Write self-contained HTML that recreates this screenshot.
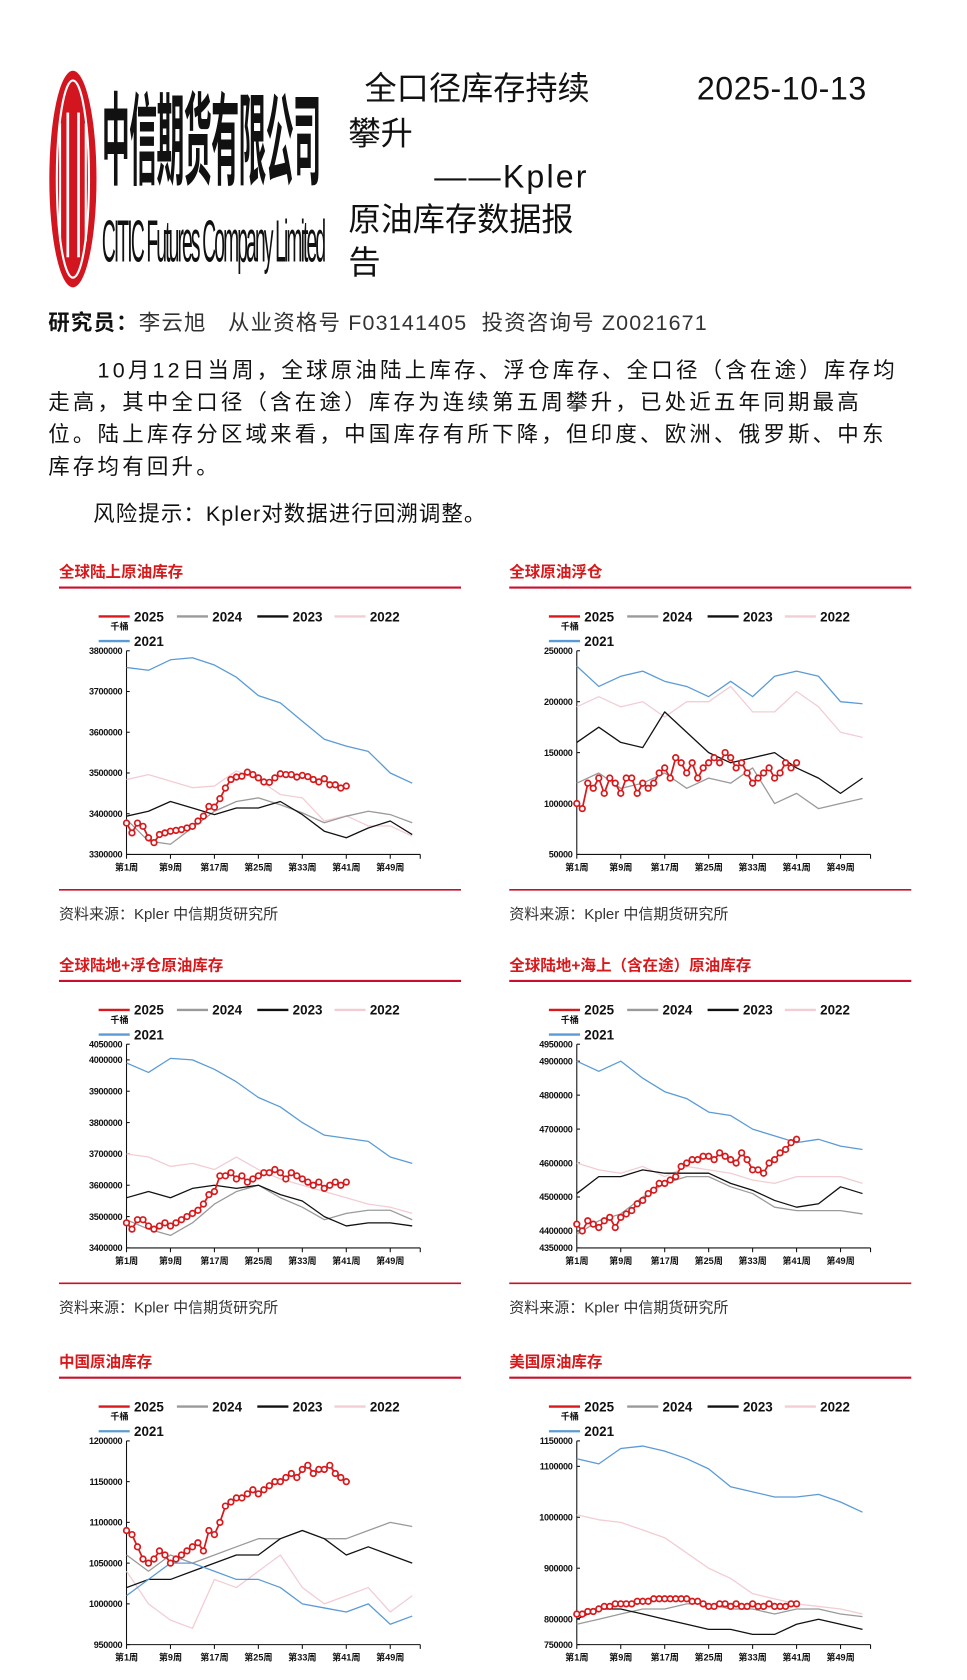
<!DOCTYPE html>
<html><head><meta charset="utf-8">
<style>
html,body{margin:0;padding:0;background:#fff;}
body{width:967px;height:1680px;overflow:hidden;position:relative;}
#page{position:absolute;left:0;top:0;width:902px;height:1567px;transform:scale(1.0721);transform-origin:0 0;font-family:"Liberation Sans","Noto Sans CJK SC",sans-serif;color:#111;}
.abs{position:absolute;white-space:nowrap;}
.ttl{font-size:30px;line-height:32px;font-family:"Liberation Sans","Noto Sans CJK SC",sans-serif;}
.para{position:absolute;left:45px;width:860px;font-size:20px;line-height:30px;white-space:nowrap;letter-spacing:3px;}
</style></head>
<body>
<div id="page">
  <svg class="abs" style="left:45px;top:65px" width="48" height="205">
    <ellipse cx="23" cy="102" rx="22" ry="101" fill="#d2151e"/>
    <ellipse cx="23" cy="102" rx="15" ry="92" fill="none" stroke="#fff" stroke-width="2"/>
    <rect x="17" y="40" width="2.5" height="135" fill="#fff"/>
    <rect x="27" y="40" width="2.5" height="135" fill="#fff"/>
    <rect x="10" y="50" width="2" height="110" fill="#fff"/>
    <rect x="34" y="50" width="2" height="110" fill="#fff"/>
  </svg>
  <div class="abs" style="left:95px;top:78px;font-size:26px;font-weight:bold;letter-spacing:-0.5px;transform:scale(1,3.6);transform-origin:0 0;font-family:'Noto Sans CJK SC',sans-serif;line-height:28px">中信期货有限公司</div>
  <div class="abs" style="left:95px;top:196px;font-size:23px;letter-spacing:-2.2px;transform:scale(0.78,2.4);transform-origin:0 0;font-family:'Liberation Sans Narrow','Liberation Sans',sans-serif;line-height:24px">CITIC Futures Company Limited</div>

  <div class="abs ttl" style="left:340px;top:68px">全口径库存持续</div>
  <div class="abs ttl" style="left:325px;top:110px">攀升</div>
  <div class="abs ttl" style="left:405px;top:150px;letter-spacing:2px">——Kpler</div>
  <div class="abs ttl" style="left:325px;top:190px">原油库存数据报</div>
  <div class="abs ttl" style="left:325px;top:230px">告</div>
  <div class="abs ttl" style="left:650px;top:68px;letter-spacing:0.5px">2025-10-13</div>

  <div class="abs" style="left:45px;top:285px;font-size:20px;letter-spacing:1.1px;color:#333"><b style="color:#111">研究员：</b>李云旭&nbsp;&nbsp;&nbsp;从业资格号 F03141405&nbsp;&nbsp;投资咨询号 Z0021671</div>

  <div class="para" style="top:331px">&emsp;&emsp;10月12日当周，全球原油陆上库存、浮仓库存、全口径（含在途）库存均<br>走高，其中全口径（含在途）库存为连续第五周攀升，已处近五年同期最高<br>位。陆上库存分区域来看，中国库存有所下降，但印度、欧洲、俄罗斯、中东<br>库存均有回升。</div>
  <div class="para" style="top:465px;letter-spacing:1px">&emsp;&emsp;风险提示：Kpler对数据进行回溯调整。</div>

  <svg id="charts" class="abs" style="left:0;top:0" width="902" height="1567"></svg>
</div>

<script>
// shared x categories
const weekLabels = ['第1周','第9周','第17周','第25周','第33周','第41周','第49周'];
const labelWeeks = [1,9,17,25,33,41,49];
const ctxWeeks = [1,5,9,13,17,21,25,29,33,37,41,45,49,53];
const seriesNames = ['2025','2024','2023','2022','2021'];

// chart 1: global onshore (thousand bbl)
const c1Ticks = [3800000,3700000,3600000,3500000,3400000,3300000];
const c1_2021 = [3759,3752,3778,3783,3765,3735,3690,3672,3627,3583,3566,3553,3500,3475];
const c1_2022 = [3484,3496,3480,3464,3468,3505,3484,3447,3439,3382,3395,3370,3370,3345];
const c1_2023 = [3394,3406,3430,3414,3398,3414,3414,3430,3398,3357,3341,3365,3382,3349];
const c1_2024 = [3386,3333,3325,3366,3406,3430,3439,3422,3402,3378,3394,3406,3398,3378];
const c1_2025 = [3377,3353,3377,3369,3341,3329,3349,3353,3357,3359,3361,3365,3369,3382,3394,3418,3416,3437,3463,3484,3490,3492,3502,3496,3488,3478,3477,3488,3498,3496,3496,3490,3494,3491,3484,3478,3486,3471,3471,3463,3468];

// chart 2: floating storage
const c2Ticks = [250000,200000,150000,100000,50000];
const c2_2021 = [235,215,225,230,220,215,205,220,205,225,230,225,200,198];
const c2_2022 = [195,205,195,200,185,200,200,215,190,190,210,195,170,165];
const c2_2023 = [160,175,160,155,190,170,150,140,145,150,135,125,110,125];
const c2_2024 = [120,130,115,120,130,115,125,120,135,100,110,95,100,105];
const c2_2025 = [100,95,120,115,125,110,125,120,110,125,125,110,120,115,120,130,135,125,145,140,130,140,125,135,140,145,140,150,145,135,140,130,120,125,130,135,125,130,140,135,140];

// chart 3: onshore + floating
const c3Ticks = [4050000,4000000,3900000,3800000,3700000,3600000,3500000,3400000];
const c3_2021 = [3990,3960,4005,4000,3970,3930,3880,3850,3800,3760,3750,3740,3690,3670];
const c3_2022 = [3700,3690,3660,3670,3650,3690,3650,3620,3600,3580,3560,3540,3530,3510];
const c3_2023 = [3560,3580,3560,3590,3600,3590,3600,3570,3550,3500,3470,3480,3480,3470];
const c3_2024 = [3490,3460,3440,3480,3540,3580,3600,3560,3530,3490,3510,3520,3520,3490];
const c3_2025 = [3480,3460,3490,3490,3470,3460,3470,3480,3470,3480,3490,3500,3510,3520,3540,3570,3580,3630,3630,3640,3620,3630,3610,3620,3630,3640,3640,3650,3640,3620,3640,3630,3620,3610,3600,3610,3590,3600,3610,3600,3610];

// chart 4: onshore + sea (incl. in transit)
const c4Ticks = [4950000,4900000,4800000,4700000,4600000,4500000,4400000,4350000];
const c4_2021 = [4900,4870,4900,4850,4810,4790,4750,4740,4700,4680,4660,4670,4650,4640];
const c4_2022 = [4600,4580,4570,4590,4560,4590,4580,4570,4550,4540,4560,4560,4560,4540];
const c4_2023 = [4510,4560,4560,4580,4570,4570,4570,4540,4520,4490,4470,4480,4530,4510];
const c4_2024 = [4390,4430,4450,4500,4540,4560,4560,4530,4510,4470,4460,4460,4460,4450];
const c4_2025 = [4420,4400,4430,4420,4410,4430,4440,4410,4440,4450,4460,4480,4490,4510,4520,4540,4540,4550,4560,4590,4600,4610,4610,4620,4620,4610,4630,4620,4610,4600,4630,4610,4580,4580,4570,4600,4610,4630,4640,4660,4670];

// chart 5: China
const c5Ticks = [1200000,1150000,1100000,1050000,1000000,950000];
const c5_2021 = [1010,1030,1050,1050,1040,1030,1030,1020,1000,995,990,1000,975,985];
const c5_2022 = [1040,1000,980,970,1030,1020,1040,1060,1020,1000,1010,1020,990,1010];
const c5_2023 = [1020,1030,1030,1040,1050,1060,1060,1080,1090,1080,1060,1070,1060,1050];
const c5_2024 = [1060,1040,1060,1050,1060,1070,1080,1080,1090,1080,1080,1090,1100,1095];
const c5_2025 = [1090,1085,1070,1055,1050,1055,1065,1060,1050,1055,1060,1065,1070,1075,1065,1090,1085,1100,1120,1125,1130,1130,1135,1140,1135,1140,1145,1150,1150,1155,1160,1155,1165,1170,1160,1165,1165,1170,1160,1155,1150];

// chart 6: US
const c6Ticks = [1150000,1100000,1000000,900000,800000,750000];
const c6_2021 = [1115,1105,1135,1140,1130,1115,1095,1060,1050,1040,1040,1045,1030,1010];
const c6_2022 = [1005,995,990,975,960,930,900,880,850,840,830,825,820,810];
const c6_2023 = [800,820,820,810,800,790,780,780,770,770,790,800,790,780];
const c6_2024 = [790,800,810,820,820,830,830,820,820,810,820,820,810,805];
const c6_2025 = [810,810,815,815,820,825,825,830,830,830,830,835,835,835,840,840,840,840,840,840,840,835,835,830,825,825,830,830,825,830,825,825,830,825,825,830,825,825,825,830,830];

const COLORS = {'2025':'#d7191c','2024':'#9a9a9a','2023':'#111111','2022':'#f2cdd3','2021':'#5b9bd5'};
const NS = 'http://www.w3.org/2000/svg';
const svg = document.getElementById('charts');

function mk(tag, attrs, parent){
  const e = document.createElementNS(NS, tag);
  for (const k in attrs) e.setAttribute(k, attrs[k]);
  (parent||svg).appendChild(e);
  return e;
}

function drawChart(key, title, dx, dy, ticks, s2021, s2022, s2023, s2024, s2025, showSource){
  const g = mk('g', {});
  
  
  const ax = 118 + dx, top = 607 + dy, bot = 797 + dy, xend = 392 + dx;
  const vmax = ticks[0] / 1000, vmin = ticks[ticks.length-1] / 1000;
  const xs = w => ax + (w - 1) * 5.125;
  const ys = v => bot - (v - vmin) / (vmax - vmin) * (bot - top);

  const t = mk('text', {x:55+dx, y:538+dy, 'font-size':14.5, 'font-weight':'bold', fill:'#d7191c', 'font-family':'"Liberation Sans","Noto Sans CJK SC",sans-serif'}, g);
  t.textContent = title;
  
  
  const rl = mk('line', {x1:55+dx, x2:430+dx, y1:548+dy, y2:548+dy, stroke:'#c8102e', 'stroke-width':2}, g);
  
  

  const legPos = [[92,575],[165,575],[240,575],[312,575],[92,598]];
  seriesNames.forEach((n,i) => {
    const lg = mk('g', {}, g);
    
    
    const [lx, ly] = legPos[i];
    mk('line', {x1:lx+dx, x2:lx+29+dx, y1:ly+dy, y2:ly+dy, stroke:COLORS[n], 'stroke-width':2.2}, lg);
    const lt = mk('text', {x:lx+33+dx, y:ly+4.5+dy, 'font-size':12.5, 'font-weight':'bold', fill:'#111'}, lg);
    lt.textContent = n;
  });
  const u = mk('text', {x:103+dx, y:587+dy, 'font-size':8.5, 'font-weight':'bold', fill:'#111', 'font-family':'"Liberation Sans","Noto Sans CJK SC",sans-serif'}, g);
  u.textContent = '千桶';
  
  

  const ya = mk('line', {x1:ax, x2:ax, y1:top, y2:bot, stroke:'#111', 'stroke-width':1}, g);
  
  
  const xa = mk('line', {x1:ax, x2:xend, y1:bot, y2:bot, stroke:'#111', 'stroke-width':1}, g);
  
  
  ticks.forEach(tv => {
    const y = ys(tv/1000);
    mk('line', {x1:ax, x2:ax+3, y1:y, y2:y, stroke:'#111', 'stroke-width':1}, g);
    const tl = mk('text', {x:ax-4, y:y+3, 'font-size':8.5, 'font-weight':'bold', 'text-anchor':'end', fill:'#111', 'letter-spacing':'-0.3'}, g);
    tl.textContent = tv;
    
    
  });
  labelWeeks.forEach((w,i) => {
    const x = xs(w);
    mk('line', {x1:x, x2:x, y1:bot, y2:bot+4, stroke:'#111', 'stroke-width':1}, g);
    const xl = mk('text', {x:x, y:bot+15, 'font-size':8.5, 'font-weight':'bold', 'text-anchor':'middle', fill:'#111', 'font-family':'"Liberation Sans","Noto Sans CJK SC",sans-serif'}, g);
    xl.textContent = weekLabels[i];
    
    
  });
  mk('line', {x1:xend, x2:xend, y1:bot, y2:bot+4, stroke:'#111', 'stroke-width':1}, g);

  const ctx = [['2022', s2022], ['2024', s2024], ['2023', s2023], ['2021', s2021]];
  ctx.forEach(([n, arr]) => {
    const pts = arr.map((v,i) => xs(ctxWeeks[i]).toFixed(1) + ',' + ys(v).toFixed(1)).join(' ');
    const pl = mk('polyline', {points:pts, fill:'none', stroke:COLORS[n], 'stroke-width':1.2, 'stroke-linejoin':'round'}, g);
    
    
  });
  const pts25 = s2025.map((v,i) => xs(i+1).toFixed(1) + ',' + ys(v).toFixed(1)).join(' ');
  const l25 = mk('polyline', {points:pts25, fill:'none', stroke:COLORS['2025'], 'stroke-width':1.6}, g);
  
  
  s2025.forEach((v,i) => {
    const c = mk('circle', {cx:xs(i+1), cy:ys(v), r:2.6, fill:'#fff', stroke:COLORS['2025'], 'stroke-width':1.6}, g);
    
    
  });

  if (showSource){
    const br = mk('line', {x1:55+dx, x2:430+dx, y1:830+dy, y2:830+dy, stroke:'#c8102e', 'stroke-width':1.5}, g);
    
    
    const src = mk('text', {x:55+dx, y:857+dy, 'font-size':14, fill:'#333', 'font-family':'"Liberation Sans","Noto Sans CJK SC",sans-serif'}, g);
    src.textContent = '资料来源：Kpler 中信期货研究所';
    
    
  }
}

drawChart('global-onshore', '全球陆上原油库存', 0, 0, c1Ticks, c1_2021, c1_2022, c1_2023, c1_2024, c1_2025, true);
drawChart('global-floating', '全球原油浮仓', 420, 0, c2Ticks, c2_2021, c2_2022, c2_2023, c2_2024, c2_2025, true);
drawChart('onshore-plus-floating', '全球陆地+浮仓原油库存', 0, 367, c3Ticks, c3_2021, c3_2022, c3_2023, c3_2024, c3_2025, true);
drawChart('onshore-plus-sea', '全球陆地+海上（含在途）原油库存', 420, 367, c4Ticks, c4_2021, c4_2022, c4_2023, c4_2024, c4_2025, true);
drawChart('china', '中国原油库存', 0, 737, c5Ticks, c5_2021, c5_2022, c5_2023, c5_2024, c5_2025, false);
drawChart('us', '美国原油库存', 420, 737, c6Ticks, c6_2021, c6_2022, c6_2023, c6_2024, c6_2025, false);
</script>
</body></html>
